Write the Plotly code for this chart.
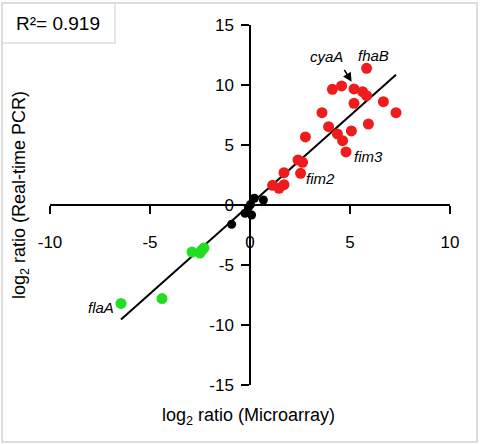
import numpy as np
import plotly.graph_objects as go

# ---------------- data ----------------
red_x = [5.83, 4.12, 4.58, 5.20, 5.63, 5.83, 5.20, 6.67, 7.30, 3.60, 3.93, 5.07,
         5.92, 4.37, 4.63, 4.80, 2.77, 2.40, 2.63, 1.70, 2.53, 1.13, 1.45, 1.70]
red_y = [11.39, 9.64, 9.92, 9.67, 9.44, 9.11, 8.47, 8.61, 7.69, 7.69, 6.53, 6.17,
         6.75, 5.92, 5.36, 4.42, 5.67, 3.75, 3.56, 2.69, 2.64, 1.64, 1.39, 1.69]
black_x = [0.22, 0.67, 0.03, -0.08, -0.25, 0.08, -0.92]
black_y = [0.56, 0.42, 0.05, -0.20, -0.69, -0.83, -1.60]
green_x = [-2.90, -2.50, -2.40, -2.30, -4.40, -6.45]
green_y = [-3.92, -4.00, -3.75, -3.58, -7.80, -8.20]

x_ticks = [-10, -5, 0, 5, 10]
x_tick_text = ["-10", "-5", "0", "5", "10"]
y_ticks = [-15, -10, -5, 0, 5, 10, 15]
y_tick_text = ["-15", "-10", "-5", "0", "5", "10", "15"]

gene_labels = ["cyaA", "fhaB", "fim3", "fim2", "flaA"]
gene_label_x = [3.83, 6.17, 5.92, 3.53, -7.47]
gene_label_y = [12.40, 12.50, 4.03, 2.22, -8.53]

r2_text = "R²= 0.919"

# regression over all points
all_x = np.array(red_x + black_x + green_x)
all_y = np.array(red_y + black_y + green_y)
slope, intercept = np.polyfit(all_x, all_y, 1)
fit_x = np.array([all_x.min(), all_x.max()])
fit_y = slope * fit_x + intercept

# ---------------- layout helpers ----------------
W, H = 480, 444
L, R, T, B = 50, 30, 25, 59
def px_x(p):
    return (p - L) / (W - L - R)
def px_y(p):
    return (H - B - p) / (H - T - B)

FONT = "Liberation Sans, Arial, Helvetica, sans-serif"

fig = go.Figure()
fig.add_trace(go.Scatter(x=fit_x, y=fit_y, mode="lines",
                         line=dict(color="black", width=2), hoverinfo="skip"))
fig.add_trace(go.Scatter(x=red_x, y=red_y, mode="markers",
                         marker=dict(color="#ee1c1c", size=11, line=dict(width=0))))
fig.add_trace(go.Scatter(x=green_x, y=green_y, mode="markers",
                         marker=dict(color="#22dd22", size=11, line=dict(width=0))))
fig.add_trace(go.Scatter(x=black_x, y=black_y, mode="markers",
                         marker=dict(color="black", size=9, line=dict(width=0))))

annotations = []
for t, xx, yy in zip(gene_labels, gene_label_x, gene_label_y):
    annotations.append(dict(x=xx, y=yy, xref="x", yref="y", text="<i>%s</i>" % t,
                            xanchor="center", yanchor="middle",
                            showarrow=False, font=dict(size=15, color="black", family=FONT)))
# arrow to cyaA point
annotations.append(dict(x=5.08, y=10.27, ax=4.67, ay=11.39, xref="x", yref="y",
                        axref="x", ayref="y", text="", showarrow=True,
                        arrowhead=2, arrowsize=1.2, arrowwidth=1.5, arrowcolor="black"))
# axis titles
annotations.append(dict(x=px_x(248), y=px_y(417), xref="paper", yref="paper",
                        xanchor="center", yanchor="middle",
                        text="log<sub>2</sub> ratio (Microarray)", showarrow=False,
                        font=dict(size=18, color="black", family=FONT)))
annotations.append(dict(x=px_x(20), y=px_y(195), xref="paper", yref="paper",
                        xanchor="center", yanchor="middle",
                        text="log<sub>2</sub> ratio (Real-time PCR)", showarrow=False,
                        textangle=-90, font=dict(size=18, color="black", family=FONT)))
# R2 label
annotations.append(dict(x=px_x(58), y=px_y(23), xref="paper", yref="paper",
                        xanchor="center", yanchor="middle",
                        text=r2_text, showarrow=False,
                        font=dict(size=19, color="black", family=FONT)))

shapes = [
    dict(type="rect", xref="paper", yref="paper",
         x0=px_x(2), x1=px_x(477), y0=px_y(442), y1=px_y(3),
         line=dict(color="#dddddd", width=2), fillcolor="rgba(0,0,0,0)", layer="below"),
    dict(type="rect", xref="paper", yref="paper",
         x0=px_x(2), x1=px_x(115), y0=px_y(43), y1=px_y(3),
         line=dict(color="#dddddd", width=1.5), fillcolor="rgba(0,0,0,0)", layer="below"),
]

axis_common = dict(showgrid=False, zeroline=False, showline=True, linecolor="black",
                   linewidth=1.5, ticks="outside", ticklen=8, tickwidth=1.5,
                   tickcolor="black", tickfont=dict(size=17, color="black", family=FONT),
                   anchor="free", position=0.5, automargin=False)

fig.update_layout(
    width=W, height=H,
    margin=dict(l=L, r=R, t=T, b=B, autoexpand=False),
    paper_bgcolor="white", plot_bgcolor="white",
    showlegend=False,
    xaxis=dict(range=[-10, 10], tickvals=x_ticks, ticktext=x_tick_text,
               ticklabelstandoff=14, **axis_common),
    yaxis=dict(range=[-15, 15], tickvals=y_ticks, ticktext=y_tick_text,
               ticklabelstandoff=4, **axis_common),
    annotations=annotations,
    shapes=shapes,
    font=dict(family=FONT),
)

fig.write_html("out.html", config={"displayModeBar": False},
               post_script="document.body.style.margin='0';document.body.style.overflow='hidden';")
